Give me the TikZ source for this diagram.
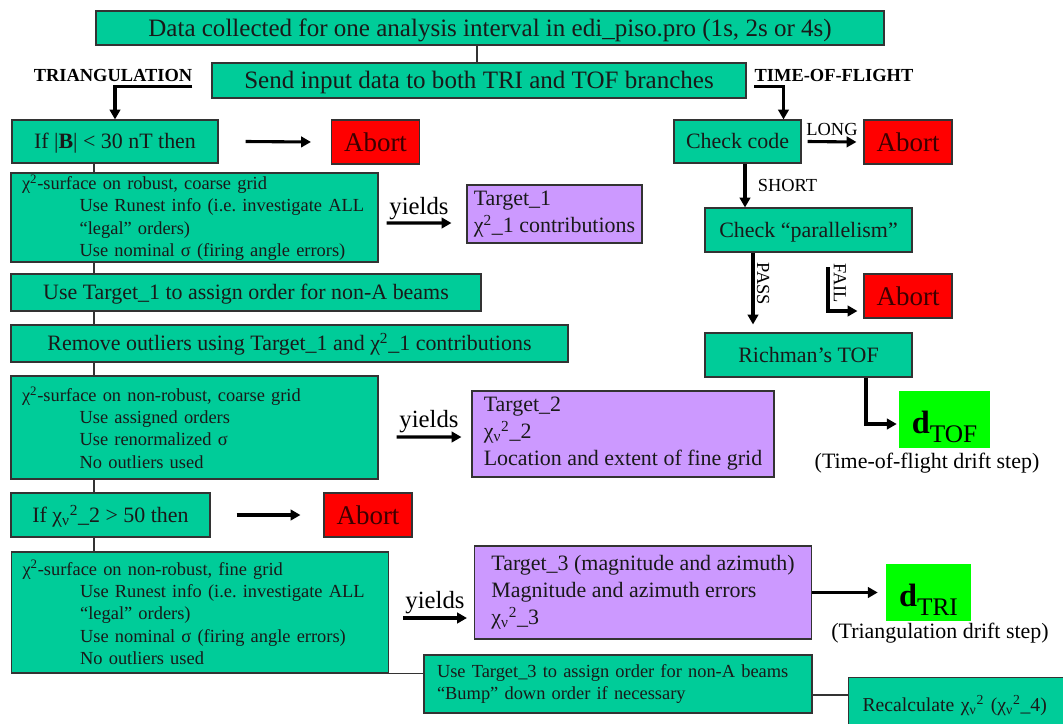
\documentclass[tikz,border=0pt]{standalone}
\usepackage{fontspec}
\setmainfont{Liberation Serif}
\usetikzlibrary{arrows.meta}
\definecolor{boxgreen}{RGB}{0,204,153}
\definecolor{boxpurple}{RGB}{204,153,255}
\definecolor{abortred}{RGB}{255,0,0}
\definecolor{abortink}{RGB}{60,0,0}
\definecolor{dgreen}{RGB}{0,255,0}
\newdimen\pxu \pxu=0.025cm
\newcommand\bigsize{\fontsize{17.8}{21}\selectfont}
\newcommand\mainsize{\fontsize{15.6}{19.2}\selectfont}
\newcommand\listsize{\fontsize{13.1}{15.9}\selectfont}
\newcommand\tagsize{\fontsize{13.1}{15}\selectfont}
\newcommand\abortsize{\fontsize{19.2}{22}\selectfont}
\newcommand\yieldsize{\fontsize{17.6}{20}\selectfont}
\newcommand\chisq{χ\textsuperscript{2}}
\newcommand\chinu{χ\textsubscript{ν}\textsuperscript{2}}
\newcommand\ind[1]{\hspace*{41pt}\mbox{#1}}
\newcommand\dsym[1]{{\fontsize{23}{24}\selectfont\bfseries d}\raisebox{-7pt}{\fontsize{18}{20}\selectfont #1}}

\begin{document}
\begin{tikzpicture}[x=0.025cm, y=-0.025cm,
    box/.style={draw=black!80, line width=0.8pt, inner sep=0pt, text=black!90, font=\mainsize},
    tealbox/.style={box, fill=boxgreen},
    oneline/.style={text height=13.5pt, text depth=3pt},
    listbox/.style={tealbox, font=\listsize, align=left, inner xsep=11\pxu},
    purplebox/.style={box, fill=boxpurple, align=left},
    abortbox/.style={box, fill=abortred, font=\abortsize, text=abortink, text height=16pt, text depth=2pt, minimum width=88\pxu, minimum height=44\pxu},
    dbox/.style={fill=dgreen, inner sep=0pt, minimum height=57\pxu, text height=37\pxu, text depth=10\pxu},
    tag/.style={inner sep=0pt, font=\tagsize},
    conn/.style={draw=black!80, line width=0.8pt},
    flow/.style={line width=2.2pt, -{Triangle[length=7pt, width=7.5pt]}}]
  \useasboundingbox (0,0) rectangle (1063,723);

  % top of the flow
  \node[tealbox, font=\bigsize, text height=15pt, text depth=3pt, minimum width=788\pxu, minimum height=34\pxu] (top) at (490,28) {Data collected for one analysis interval in edi\_piso.pro (1s, 2s or 4s)};
  \node[tealbox, font=\bigsize, text height=15pt, text depth=3pt, minimum width=534\pxu, minimum height=35\pxu] (send) at (479,80.5) {Send input data to both TRI and TOF branches};
  \node[tag, font=\tagsize\bfseries] (tri) at (113,75) {TRIANGULATION};
  \node[tag, font=\tagsize\bfseries] (tof) at (834,75) {TIME-OF-FLIGHT};

  % triangulation branch
  \node[tealbox, oneline, minimum width=206\pxu, minimum height=43\pxu] (ifB) at (115,141.5) {If |\textbf{B}| < 30 nT then};
  \node[abortbox] (abortA) at (375.5,142) {Abort};
  \node[listbox, text width=345\pxu, minimum height=89\pxu] (chiA) at (194.5,217.5) {\chisq-surface on robust, coarse grid\\ \ind{Use Runest info (i.e.\ investigate ALL}\\ \ind{“legal” orders)}\\ \ind{Use nominal σ (firing angle errors)}};
  \node[purplebox, minimum width=175\pxu, minimum height=58\pxu] (tgtA) at (554.5,214) {Target\_1\\ \chisq\_1 contributions};
  \node[tealbox, oneline, minimum width=470\pxu, minimum height=37\pxu] (useA) at (246,292.5) {Use Target\_1 to assign order for non-A beams};
  \node[tealbox, oneline, minimum width=557\pxu, minimum height=37\pxu] (remA) at (289.5,343.5) {Remove outliers using Target\_1 and \chisq\_1 contributions};
  \node[listbox, text width=345\pxu, minimum height=103\pxu] (chiB) at (194.5,427.5) {\chisq-surface on non-robust, coarse grid\\ \ind{Use assigned orders}\\ \ind{Use renormalized σ}\\ \ind{No outliers used}};
  \node[purplebox, minimum width=302\pxu, minimum height=86\pxu] (tgtB) at (623,434) {Target\_2\\ \chinu\_2\\ Location and extent of fine grid};
  \node[tealbox, oneline, minimum width=199\pxu, minimum height=44\pxu] (ifC) at (110.5,515) {If \chinu\_2 > 50 then};
  \node[abortbox] (abortC) at (368,515) {Abort};
  \node[listbox, text width=355\pxu, minimum height=121\pxu] (chiC) at (200,612.5) {\chisq-surface on non-robust, fine grid\\ \ind{Use Runest info (i.e.\ investigate ALL}\\ \ind{“legal” orders)}\\ \ind{Use nominal σ (firing angle errors)}\\ \ind{No outliers used}};
  \node[purplebox, minimum width=337\pxu, minimum height=93\pxu] (tgtC) at (643,592.5) {Target\_3 (magnitude and azimuth)\\ Magnitude and azimuth errors\\ \chinu\_3};
  \node[dbox, minimum width=85\pxu] (dTRI) at (928.5,592.5) {\dsym{TRI}};
  \node[tag, font=\mainsize] (captri) at (940,633) {(Triangulation drift step)};
  \node[listbox, text width=362\pxu, inner xsep=13\pxu, minimum height=58\pxu] (useC) at (618,684) {Use Target\_3 to assign order for non-A beams\\ “Bump” down order if necessary};
  \node[tealbox, font=\fontsize{14}{16}\selectfont, align=left, anchor=north west, text width=216\pxu, inner xsep=14\pxu, minimum height=56\pxu] (recalc) at (848,677) {Recalculate \chinu{} (\chinu\_4)};

  % time-of-flight branch
  \node[tealbox, oneline, minimum width=127\pxu, minimum height=43\pxu] (chk) at (737.5,141.5) {Check code};
  \node[abortbox] (abortB) at (908,142) {Abort};
  \node[tealbox, oneline, minimum width=207\pxu, minimum height=44\pxu] (par) at (808.5,230) {Check “parallelism”};
  \node[abortbox] (abortD) at (908,296) {Abort};
  \node[tealbox, oneline, minimum width=207\pxu, minimum height=44\pxu] (rich) at (808.5,355) {Richman’s TOF};
  \node[dbox, minimum width=91\pxu] (dTOF) at (944.5,419.5) {\dsym{TOF}};
  \node[tag, font=\mainsize] (captof) at (927,463) {(Time-of-flight drift step)};
  \node[tag, rotate=-90] (fail) at (840,283) {FAIL};
  \coordinate (failtop) at (828,267);

  % thin connectors
  \coordinate (split) at (477,0);
  \coordinate (spine) at (94,0);
  \draw[conn] (top.south -| split) -- (send.north -| split);
  \foreach \a/\b in {ifB/chiA,chiA/useA,useA/remA,remA/chiB,chiB/ifC,ifC/chiC}
    \draw[conn] (\a.south -| spine) -- (\b.north -| spine);
  \draw[conn] (chiC.south east) -- (chiC.south east -| useC.west);
  \draw[conn] ([yshift=-11\pxu]useC.east) -- ([yshift=-11\pxu]useC.east -| recalc.west);

  % arrows
  \draw[flow] ([yshift=-5\pxu]tri.south east) -| (ifB);
  \draw[flow] ([xshift=27\pxu]ifB.east) -- ([xshift=-20\pxu]abortA.west);
  \draw[flow] ([shift={(8,5.5)}]chiA.east) -- node[above=1pt, inner sep=0pt, font=\yieldsize] (y1) {yields} ([shift={(-15,9)}]tgtA.west);
  \draw[flow] ([shift={(18,9.5)}]chiB.east) -- node[above=2pt, inner sep=0pt, font=\yieldsize] (y2) {yields} ([shift={(-10,3)}]tgtB.west);
  \draw[flow] ([xshift=26\pxu]ifC.east) -- ([xshift=-23\pxu]abortC.west);
  \draw[flow] ([shift={(14,5.5)}]chiC.east) -- node[above=2pt, inner sep=0pt, font=\yieldsize] (y3) {yields} ([shift={(-7,25.5)}]tgtC.west);
  \draw[flow] (tgtC.east) -- ([xshift=-8\pxu]dTRI.west);

  \draw[flow] ([yshift=-5\pxu]tof.south west) -| ([xshift=46\pxu]chk.north);
  \draw[flow] ([xshift=6\pxu]chk.east) -- node[above=3pt, tag] (long) {LONG} ([xshift=-7\pxu]abortB.west);
  \draw[flow] ([xshift=7.5\pxu]chk.south) -- node[right=8pt, tag] (short) {SHORT} ([xshift=7.5\pxu]chk.south |- par.north);
  \draw[flow] ([xshift=-55.5\pxu]par.south) -- node[tag, xshift=10\pxu, yshift=4.5\pxu, rotate=-90] (pass) {PASS} ([shift={(-55.5,-8)}]rich.north);
  \draw[flow] (failtop) |- ([shift={(-6,15)}]abortD.west);
  \draw[flow] ([xshift=57.5\pxu]rich.south) |- ([shift={(-2,4.5)}]dTOF.west);
\end{tikzpicture}
\end{document}
